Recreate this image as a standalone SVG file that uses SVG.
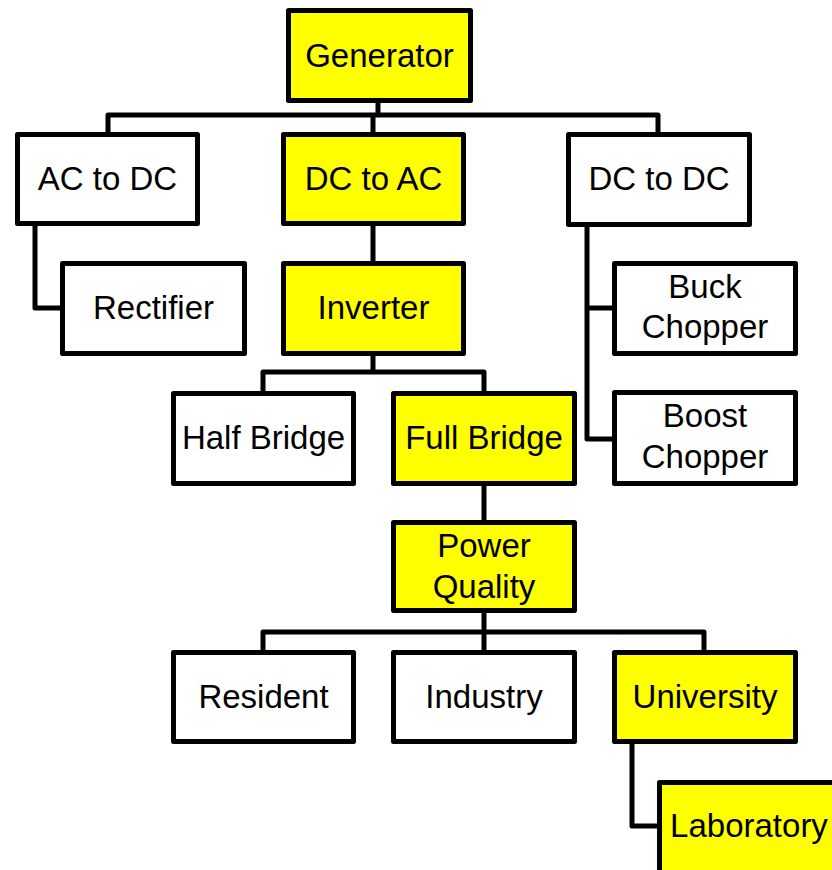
<svg xmlns="http://www.w3.org/2000/svg" width="832" height="870" viewBox="0 0 832 870">
<style>
.box{fill:#ffffff;stroke:#000;stroke-width:5;stroke-linejoin:round}
.hl{fill:#ffff00}
.lbl{font-family:"Liberation Sans",Arial,sans-serif;font-size:33px;fill:#000;text-anchor:middle}
.conn{fill:none;stroke:#000;stroke-width:5;stroke-linejoin:round;stroke-linecap:butt}
</style>
<rect width="832" height="870" fill="#ffffff"/>
<g id="connectors">
<path class="conn" d="M378,103 V115"/>
<path class="conn" d="M108,134 V115 H658 V134"/>
<path class="conn" d="M373,115 V134"/>
<path class="conn" d="M35,226 V308 H60"/>
<path class="conn" d="M373,226 V261"/>
<path class="conn" d="M373,356 V372"/>
<path class="conn" d="M263,391 V372 H484 V391"/>
<path class="conn" d="M587,227 V439 H612"/>
<path class="conn" d="M587,308 H612"/>
<path class="conn" d="M484,486 V520"/>
<path class="conn" d="M484,613 V650"/>
<path class="conn" d="M263,650 V632 H704 V650"/>
<path class="conn" d="M632,744 V826 H657"/>
</g>
<g id="generator"><rect class="box hl" x="288.5" y="10.5" width="182" height="90"/><text class="lbl" x="379.5" y="67">Generator</text></g>
<g id="ac-to-dc"><rect class="box" x="17.5" y="134.5" width="180" height="89"/><text class="lbl" x="107.5" y="190">AC to DC</text></g>
<g id="dc-to-ac"><rect class="box hl" x="283.5" y="134.5" width="180" height="89"/><text class="lbl" x="373.5" y="190">DC to AC</text></g>
<g id="dc-to-dc"><rect class="box" x="568.5" y="134.5" width="181" height="90"/><text class="lbl" x="659" y="190">DC to DC</text></g>
<g id="rectifier"><rect class="box" x="62.5" y="263.5" width="182" height="90"/><text class="lbl" x="153.5" y="319">Rectifier</text></g>
<g id="inverter"><rect class="box hl" x="283.5" y="263.5" width="180" height="90"/><text class="lbl" x="373.5" y="319">Inverter</text></g>
<g id="buck-chopper"><rect class="box" x="614.5" y="263.5" width="181" height="90"/><text class="lbl" x="705" y="298">Buck</text><text class="lbl" x="705" y="338">Chopper</text></g>
<g id="half-bridge"><rect class="box" x="173.5" y="393.5" width="180" height="90"/><text class="lbl" x="263.5" y="449">Half Bridge</text></g>
<g id="full-bridge"><rect class="box hl" x="393.5" y="393.5" width="181" height="90"/><text class="lbl" x="484" y="449">Full Bridge</text></g>
<g id="boost-chopper"><rect class="box" x="614.5" y="392.5" width="181" height="91"/><text class="lbl" x="705" y="427">Boost</text><text class="lbl" x="705" y="468">Chopper</text></g>
<g id="power-quality"><rect class="box hl" x="393.5" y="522.5" width="181" height="88"/><text class="lbl" x="484" y="557">Power</text><text class="lbl" x="484" y="598">Quality</text></g>
<g id="resident"><rect class="box" x="173.5" y="652.5" width="180" height="89"/><text class="lbl" x="263.5" y="708">Resident</text></g>
<g id="industry"><rect class="box" x="393.5" y="652.5" width="181" height="89"/><text class="lbl" x="484" y="708">Industry</text></g>
<g id="university"><rect class="box hl" x="614.5" y="652.5" width="181" height="89"/><text class="lbl" x="705" y="708">University</text></g>
<g id="laboratory"><rect class="box hl" x="659.5" y="782.5" width="182" height="90"/><text class="lbl" x="749" y="837">Laboratory</text></g>
</svg>
